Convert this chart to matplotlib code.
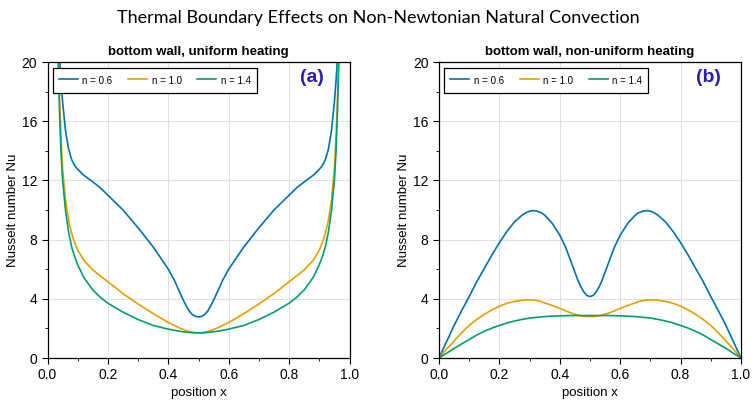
import matplotlib
matplotlib.use("Agg")
import matplotlib.pyplot as plt
from matplotlib.ticker import MultipleLocator, FormatStrFormatter

plt.rcParams['font.family'] = ['Liberation Sans', 'DejaVu Sans']

# ---------------- data ----------------
labels = ["n = 0.6", "n = 1.0", "n = 1.4"]
colors = ["#0072B2", "#E69F00", "#009E73"]

# (a) uniform heating
xa = [0.02, 0.03, 0.035, 0.04, 0.045, 0.05, 0.06, 0.07, 0.08, 0.09, 0.10, 0.12, 0.15,
      0.175, 0.20, 0.25, 0.30, 0.35, 0.40, 0.42, 0.44, 0.45, 0.46, 0.47, 0.48, 0.49, 0.50,
      0.51, 0.52, 0.53, 0.54, 0.55, 0.56, 0.58, 0.60, 0.65, 0.70, 0.75, 0.80, 0.825, 0.85, 0.88,
      0.90, 0.91, 0.92, 0.93, 0.94, 0.95, 0.955, 0.96, 0.965, 0.97, 0.98]
nu_a_06 = [40.0, 26.0, 22.5, 20.2, 18.6, 17.3, 15.3, 14.1, 13.4, 13.0, 12.75, 12.35, 11.9,
           11.5, 11.0, 10.0, 8.8, 7.5, 6.0, 5.25, 4.35, 3.9, 3.5, 3.15, 2.93, 2.81, 2.78,
           2.81, 2.93, 3.15, 3.5, 3.9, 4.35, 5.25, 6.0, 7.5, 8.8, 10.0, 11.0, 11.5, 11.9, 12.35,
           12.75, 13.0, 13.4, 14.1, 15.3, 17.3, 18.6, 20.2, 22.5, 26.0, 40.0]
nu_a_10 = [40.0, 25.0, 20.5, 17.5, 14.8, 12.8, 10.6, 9.3, 8.4, 7.8, 7.3, 6.6, 5.95,
           5.55, 5.15, 4.35, 3.65, 3.0, 2.4, 2.2, 2.0, 1.92, 1.85, 1.79, 1.74, 1.71, 1.7,
           1.71, 1.74, 1.79, 1.85, 1.92, 2.0, 2.2, 2.4, 3.0, 3.65, 4.35, 5.15, 5.55, 5.95, 6.6,
           7.3, 7.8, 8.4, 9.3, 10.6, 12.8, 14.8, 17.5, 20.5, 25.0, 40.0]
nu_a_14 = [40.0, 26.0, 20.5, 16.5, 13.8, 12.0, 9.9, 8.5, 7.5, 6.85, 6.3, 5.45, 4.6,
           4.1, 3.7, 3.1, 2.6, 2.2, 1.95, 1.87, 1.8, 1.77, 1.75, 1.73, 1.71, 1.7, 1.7,
           1.7, 1.71, 1.73, 1.75, 1.77, 1.8, 1.87, 1.95, 2.2, 2.6, 3.1, 3.7, 4.1, 4.6, 5.45,
           6.3, 6.85, 7.5, 8.5, 9.9, 12.0, 13.8, 16.5, 20.5, 26.0, 40.0]

# (b) non-uniform heating
xb = [0.0, 0.025, 0.05, 0.075, 0.10, 0.125, 0.15, 0.175, 0.20, 0.225, 0.25, 0.275, 0.29, 0.30,
      0.31, 0.325, 0.34, 0.35, 0.375, 0.40, 0.42, 0.44, 0.45, 0.46, 0.47, 0.48, 0.49, 0.50,
      0.51, 0.52, 0.53, 0.54, 0.55, 0.56, 0.58, 0.60, 0.625, 0.65, 0.66, 0.675, 0.69, 0.70, 0.71,
      0.725, 0.75, 0.775, 0.80, 0.825, 0.85, 0.875, 0.90, 0.925, 0.95, 0.975, 1.0]
nu_b_06 = [0.0, 1.1, 2.2, 3.2, 4.15, 5.15, 6.05, 6.95, 7.8, 8.55, 9.2, 9.65, 9.84, 9.92,
           9.96, 9.92, 9.8, 9.65, 9.1, 8.3, 7.45, 6.35, 5.8, 5.25, 4.8, 4.45, 4.22, 4.15,
           4.22, 4.45, 4.8, 5.25, 5.8, 6.35, 7.45, 8.3, 9.1, 9.65, 9.8, 9.92, 9.96, 9.92, 9.84,
           9.65, 9.2, 8.55, 7.8, 6.95, 6.05, 5.15, 4.15, 3.2, 2.2, 1.1, 0.0]
nu_b_10 = [0.0, 0.6, 1.15, 1.7, 2.2, 2.6, 2.95, 3.25, 3.5, 3.7, 3.82, 3.9, 3.92, 3.93,
           3.92, 3.88, 3.8, 3.72, 3.55, 3.35, 3.18, 3.02, 2.96, 2.9, 2.85, 2.82, 2.8, 2.8,
           2.8, 2.82, 2.85, 2.9, 2.96, 3.02, 3.18, 3.35, 3.55, 3.72, 3.8, 3.88, 3.92, 3.93, 3.92,
           3.9, 3.82, 3.7, 3.5, 3.25, 2.95, 2.6, 2.2, 1.7, 1.15, 0.6, 0.0]
nu_b_14 = [0.0, 0.32, 0.65, 0.95, 1.25, 1.55, 1.8, 2.02, 2.2, 2.37, 2.5, 2.61, 2.66, 2.7,
           2.72, 2.75, 2.78, 2.8, 2.83, 2.85, 2.86, 2.87, 2.87, 2.87, 2.87, 2.87, 2.87, 2.87,
           2.87, 2.87, 2.87, 2.87, 2.87, 2.87, 2.86, 2.85, 2.83, 2.8, 2.78, 2.75, 2.72, 2.7, 2.66,
           2.61, 2.5, 2.37, 2.2, 2.02, 1.8, 1.55, 1.25, 0.95, 0.65, 0.32, 0.0]

titles = ["bottom wall, uniform heating", "bottom wall, non-uniform heating"]
tags = ["(a)", "(b)"]
tag_x = [0.877, 0.893]

# ---------------- plot ----------------
fig = plt.figure(figsize=(7.56, 4.07), dpi=100)
W, H = 756, 407
axes = [fig.add_axes([47.5 / W, (H - 358) / H, 302 / W, 296 / H]),
        fig.add_axes([439 / W, (H - 358) / H, 302 / W, 296 / H])]

panels = [(xa, [nu_a_06, nu_a_10, nu_a_14]), (xb, [nu_b_06, nu_b_10, nu_b_14])]

for ax, (xs, series), title, tag, tx in zip(axes, panels, titles, tags, tag_x):
    for ys, c, lab in zip(series, colors, labels):
        ax.plot(xs, ys, color=c, lw=1.2, label=lab)
    ax.set_xlim(0, 1)
    ax.set_ylim(0, 20)
    ax.xaxis.set_major_locator(MultipleLocator(0.2))
    ax.xaxis.set_minor_locator(MultipleLocator(0.1))
    ax.yaxis.set_major_locator(MultipleLocator(4))
    ax.yaxis.set_minor_locator(MultipleLocator(2))
    ax.xaxis.set_major_formatter(FormatStrFormatter('%.1f'))
    ax.tick_params(which='major', direction='out', length=4, width=0.8, labelsize=10, color='black')
    ax.tick_params(which='minor', direction='out', length=2.5, width=0.6, color='black')
    ax.grid(True, which='major', color='#e0e0e0', lw=0.8)
    ax.set_axisbelow(True)
    for s in ax.spines.values():
        s.set_linewidth(0.9)
        s.set_color('black')
    ax.set_xlabel("position x", fontsize=9.5, labelpad=3)
    ax.set_ylabel("Nusselt number Nu", fontsize=9.5, labelpad=2)
    ax.set_title(title, fontsize=9.5, fontweight='bold', pad=5)
    leg = ax.legend(loc='upper left', ncol=3, fontsize=7, frameon=True, fancybox=False,
                    edgecolor='black', framealpha=1, handlelength=1.95, columnspacing=1.6,
                    handletextpad=0.48, borderpad=0.6, handleheight=1.8,
                    borderaxespad=0, bbox_to_anchor=(0.018, 0.98))
    leg.get_frame().set_linewidth(0.9)
    ax.text(tx, 0.946, tag, transform=ax.transAxes, fontsize=14, fontweight='bold',
            color='#2a1fb0', ha='center', va='center')

fig.text(0.5, 0.955, "Thermal Boundary Effects on Non-Newtonian Natural Convection",
         ha='center', va='center', fontsize=13, family=['Lato', 'DejaVu Sans'])

fig.savefig("out.png", dpi=100)
